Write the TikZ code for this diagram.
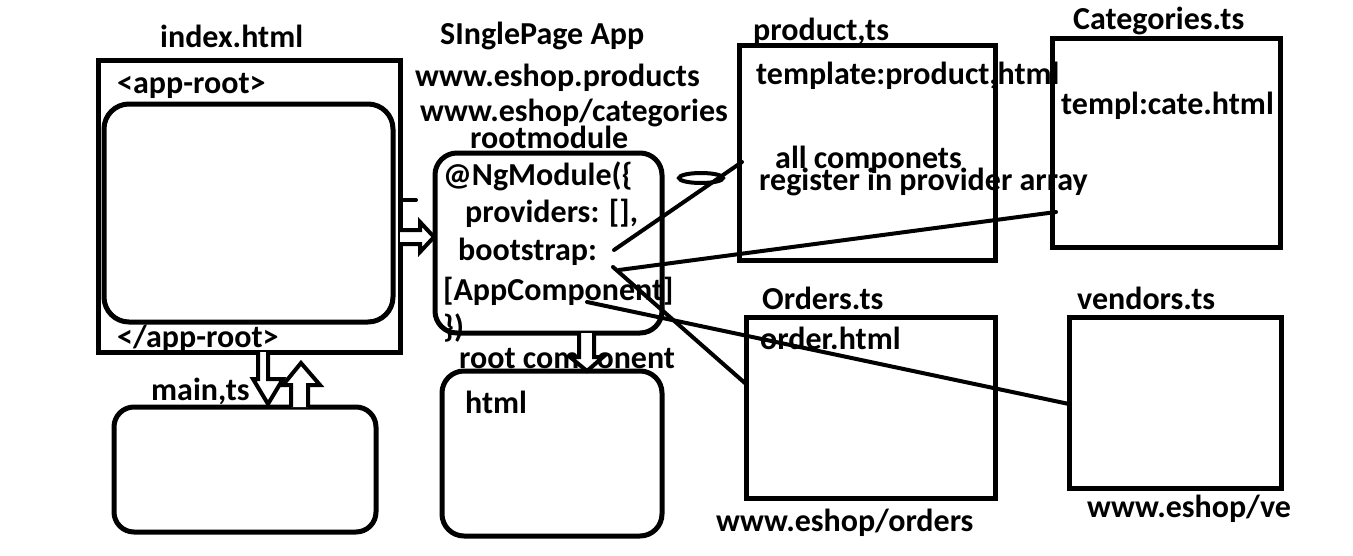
\documentclass[tikz,border=0pt]{standalone}
\usepackage{fontspec}
\usetikzlibrary{shapes.geometric}
\setmainfont{Carlito}
\begin{document}
\begin{tikzpicture}[x=1pt,y=-1pt,
  txt/.style={font=\fontsize{32}{34}\selectfont\bfseries, inner sep=0pt, anchor=base west},
  sqbox/.style={draw, line width=5pt, inner sep=0pt},
  rbox/.style={draw, line width=5pt, inner sep=0pt, rounded corners=22pt},
  conn/.style={line width=4pt, line cap=round},
  blockarrow/.style={draw, line width=4pt, fill=white, line join=miter}]
\useasboundingbox[fill=white] (0,0) rectangle (1353,555);

% boxes
\node[sqbox, minimum width=302pt, minimum height=292pt] (index) at (249,206) {};
\node[rbox, minimum width=289pt, minimum height=218pt, rounded corners=25pt] (inner) at (248.5,213) {};
\node[rbox, minimum width=227pt, minimum height=180pt] (rootmod) at (548.5,243) {};
\node[rbox, minimum width=220pt, minimum height=165pt] (rootcomp) at (552,453.5) {};
\node[rbox, minimum width=262pt, minimum height=125pt, rounded corners=20pt] (mainbox) at (245,469.5) {};
\node[sqbox, minimum width=256pt, minimum height=215pt] (prod) at (867,152.5) {};
\node[sqbox, minimum width=228pt, minimum height=209pt] (cat) at (1166,142.5) {};
\node[sqbox, minimum width=249pt, minimum height=181pt] (ord) at (870.5,407.5) {};
\node[sqbox, minimum width=212pt, minimum height=171pt] (ven) at (1175,402.5) {};

% texts
\node[txt] (tindex) at (160,47) {index.html};
\node[txt] (tapp) at (117,93) {<app-root>};
\node[txt] (tappend) at (117,347) {</app-root>};
\node[txt] (tspa) at (440,44) {SInglePage App};
\node[txt] (tprods) at (415,86) {www.eshop.products};
\node[txt] (tcats) at (420,121) {www.eshop/categories};
\node[txt] (trootmod) at (470,148) {rootmodule};
\node[txt] (tng) at (443,185) {@NgModule(\{};
\node[txt] (tprov) at (465,222) {providers: [],};
\node[txt] (tboot) at (458,260) {bootstrap:};
\node[txt] (tappc) at (443,300) {[AppComponent]};
\node[txt] (tclose) at (443,337) {\})};
\node[txt] (trootcomp) at (459,368) {root component};
\node[txt] (thtml) at (465,413) {html};
\node[txt] (tmain) at (151,400) {main,ts};
\node[txt] (tprodts) at (753,40) {product,ts};
\node[txt] (tcatts) at (1073,29) {Categories.ts};
\node[txt] (ttmpl) at (756,84) {template:product,html};
\node[txt] (tcate) at (1061,114) {templ:cate.html};
\node[txt] (tall) at (775,168) {all componets};
\node[txt] (treg) at (759,190) {register in provider array};
\node[txt] (tordts) at (762,309) {Orders.ts};
\node[txt] (tvents) at (1077,309) {vendors.ts};
\node[txt] (tordh) at (760,349) {order.html};
\node[txt] (tordurl) at (716,531) {www.eshop/orders};
\node[txt] (tvenurl) at (1087,517) {www.eshop/ve};

% block arrows
\draw[blockarrow] (400,230) -- (420,230) -- (420,222) -- (434,237) -- (420,252) -- (420,244) -- (400,244);
\draw[blockarrow] (579,333) -- (579,357) -- (570,357) -- (587,371) -- (603,357) -- (594,357) -- (594,333);
\draw[blockarrow] (258,352) -- (258,379) -- (253,379) -- (268,404) -- (283,379) -- (268,379) -- (268,352);
\draw[blockarrow] (291,407) -- (291,385) -- (283,385) -- (301,363) -- (320,385) -- (308,385) -- (308,407);

% stub and ellipse
\coordinate (stubA) at (400,200);
\coordinate (stubB) at (416,200);
\draw[conn] (stubA) -- (stubB);
\node[draw, line width=4pt, ellipse, minimum width=44pt, minimum height=10pt, inner sep=0pt] (ell) at (701,178) {};

% connectors
\coordinate (c1a) at (614,250);
\coordinate (c1b) at (742,162);
\coordinate (c2a) at (619,270);
\coordinate (c2b) at (1056,212);
\coordinate (c3a) at (613,267);
\coordinate (c3b) at (746,384);
\coordinate (c4a) at (587,302);
\coordinate (c4b) at (1069,404);
\draw[conn] (c1a) -- (c1b);
\draw[conn] (c2a) -- (c2b);
\draw[conn] (c3a) -- (c3b);
\draw[conn] (c4a) -- (c4b);
\end{tikzpicture}
\end{document}
